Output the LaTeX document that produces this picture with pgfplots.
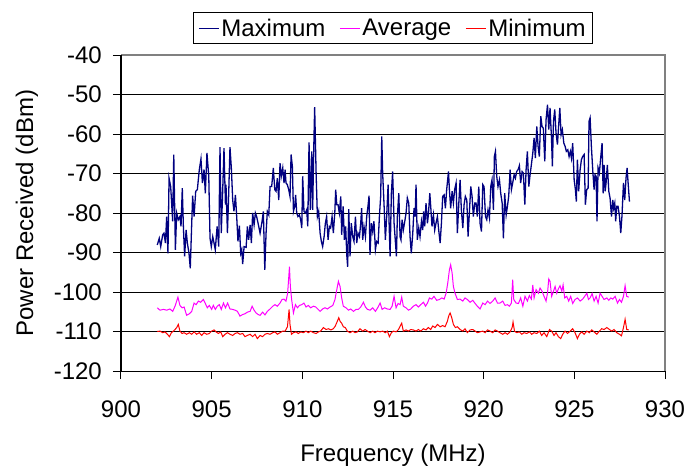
\documentclass[border=0pt]{standalone}
\usepackage{pgfplots}
\pgfplotsset{compat=1.18}
\usepackage{fontspec}
\setmainfont{Liberation Sans}
\definecolor{maxc}{RGB}{0,0,128}
\definecolor{avgc}{RGB}{255,0,255}
\definecolor{minc}{RGB}{255,0,0}
\definecolor{bordc}{RGB}{128,128,128}

\pgfplotstableread{
f v
902.00 -88.1
902.11 -86.4
902.19 -88.5
902.30 -85.5
902.37 -85.1
902.45 -87.6
902.52 -80.9
902.59 -90.2
902.65 -71.2
902.74 -73.3
902.85 -82.1
902.91 -65.2
903.00 -89.3
903.07 -80.0
903.16 -81.7
903.25 -80.9
903.31 -83.4
903.38 -73.7
903.44 -83.4
903.51 -91.0
903.59 -84.3
903.66 -87.6
903.75 -90.2
903.82 -94.0
903.95 -75.6
904.03 -80.9
904.12 -74.5
904.21 -74.1
904.32 -69.0
904.41 -66.3
904.49 -72.4
904.58 -69.0
904.65 -75.0
904.74 -64.8
904.84 -70.7
904.91 -86.4
904.98 -88.5
905.06 -86.0
905.13 -87.6
905.20 -89.3
905.30 -83.4
905.39 -88.5
905.46 -63.3
905.53 -85.1
905.61 -74.1
905.68 -63.6
905.76 -77.9
905.79 -72.8
905.87 -85.1
905.94 -75.0
906.01 -63.3
906.09 -69.0
906.16 -76.7
906.23 -79.6
906.31 -75.4
906.38 -80.9
906.45 -87.2
906.53 -83.2
906.60 -90.2
906.66 -89.3
906.71 -92.9
906.79 -88.5
906.90 -88.7
906.97 -83.4
907.04 -86.8
907.12 -83.0
907.19 -87.6
907.26 -80.0
907.34 -83.0
907.41 -80.0
907.48 -80.9
907.56 -82.6
907.67 -85.1
907.78 -82.1
907.85 -79.6
907.93 -94.4
908.00 -85.1
908.07 -79.6
908.15 -80.5
908.22 -73.3
908.31 -73.3
908.40 -68.6
908.48 -74.1
908.55 -74.5
908.62 -71.2
908.70 -76.7
908.77 -67.4
908.84 -70.7
908.92 -68.6
908.99 -72.4
909.05 -69.0
909.10 -72.4
909.17 -72.8
909.25 -74.1
909.32 -75.8
909.38 -65.2
909.45 -68.2
909.51 -79.6
909.58 -78.3
909.63 -75.4
909.69 -80.0
909.76 -80.9
909.84 -80.5
909.91 -81.7
909.97 -83.8
910.02 -70.7
910.09 -79.6
910.17 -80.0
910.24 -79.2
910.30 -83.4
910.37 -62.1
910.44 -79.2
910.52 -64.4
910.57 -79.2
910.63 -63.6
910.68 -53.2
910.76 -69.9
910.83 -80.9
910.90 -79.6
910.98 -85.1
911.05 -87.2
911.12 -88.5
911.20 -86.0
911.27 -82.6
911.34 -80.9
911.42 -86.8
911.49 -83.4
911.56 -83.8
911.64 -80.9
911.71 -85.1
911.79 -80.0
911.84 -74.1
911.90 -77.9
911.97 -77.9
912.04 -80.0
912.12 -75.8
912.17 -85.5
912.25 -78.3
912.32 -86.8
912.39 -83.4
912.45 -90.6
912.50 -93.6
912.56 -79.0
912.63 -91.0
912.70 -82.6
912.78 -86.0
912.85 -87.2
912.93 -80.9
913.00 -87.6
913.07 -85.1
913.15 -86.0
913.22 -82.6
913.27 -78.8
913.33 -86.8
913.40 -83.4
913.48 -86.0
913.55 -80.9
913.62 -78.3
913.68 -75.6
913.73 -90.6
913.81 -82.6
913.88 -84.7
913.95 -82.1
914.03 -89.3
914.10 -87.2
914.18 -87.6
914.25 -80.9
914.32 -75.8
914.38 -60.6
914.43 -69.9
914.51 -78.3
914.58 -86.8
914.65 -80.9
914.73 -72.8
914.78 -81.7
914.84 -91.0
914.91 -75.0
914.98 -69.5
915.06 -82.6
915.13 -87.2
915.19 -91.0
915.24 -80.9
915.32 -75.0
915.39 -86.0
915.44 -86.8
915.50 -81.7
915.57 -84.3
915.65 -82.1
915.72 -80.0
915.79 -76.2
915.87 -77.5
915.94 -86.0
916.01 -90.2
916.09 -85.1
916.16 -78.8
916.22 -80.9
916.27 -72.8
916.34 -86.8
916.42 -83.8
916.49 -86.0
916.57 -82.1
916.64 -84.3
916.69 -79.6
916.75 -83.4
916.82 -77.5
916.90 -82.6
916.95 -80.5
917.03 -75.0
917.08 -78.3
917.15 -83.4
917.23 -80.5
917.30 -84.3
917.37 -82.6
917.45 -80.9
917.52 -84.3
917.60 -87.6
917.67 -82.6
917.74 -75.8
917.82 -75.4
917.89 -78.8
917.96 -74.1
918.06 -69.5
918.11 -74.1
918.18 -78.8
918.26 -74.5
918.33 -77.5
918.40 -74.1
918.48 -72.4
918.55 -85.1
918.63 -77.5
918.70 -71.6
918.77 -79.2
918.85 -83.8
918.92 -77.9
918.99 -75.8
919.07 -76.7
919.14 -86.0
919.21 -80.0
919.29 -73.3
919.36 -75.8
919.43 -80.9
919.51 -77.5
919.58 -77.5
919.65 -80.9
919.73 -73.3
919.80 -82.6
919.88 -84.7
919.95 -72.8
920.02 -73.3
920.10 -80.9
920.17 -81.7
920.24 -79.2
920.32 -81.3
920.39 -73.3
920.46 -71.6
920.54 -79.2
920.59 -65.7
920.65 -64.4
920.72 -70.7
920.79 -73.3
920.87 -71.6
920.94 -75.0
921.02 -77.5
921.09 -86.4
921.16 -75.0
921.24 -80.5
921.31 -78.3
921.38 -75.8
921.46 -69.0
921.53 -74.1
921.60 -72.4
921.68 -70.3
921.75 -71.2
921.82 -69.5
921.90 -69.0
921.97 -68.0
922.04 -72.4
922.12 -69.5
922.19 -69.9
922.27 -77.9
922.34 -69.0
922.41 -64.4
922.49 -73.3
922.56 -70.3
922.63 -67.8
922.71 -64.8
922.78 -61.0
922.85 -66.1
922.93 -58.1
923.00 -63.1
923.07 -65.7
923.15 -55.5
923.22 -58.1
923.29 -58.5
923.37 -66.9
923.44 -56.4
923.52 -52.6
923.59 -58.9
923.66 -53.4
923.74 -61.0
923.79 -68.2
923.85 -56.8
923.92 -53.8
923.99 -59.7
924.07 -62.7
924.12 -58.9
924.20 -53.4
924.27 -60.2
924.34 -58.9
924.42 -62.3
924.49 -63.1
924.56 -64.4
924.64 -64.0
924.71 -65.7
924.78 -64.4
924.84 -66.1
924.91 -62.3
924.99 -71.6
925.06 -74.1
925.11 -77.1
925.17 -66.5
925.24 -74.5
925.32 -69.0
925.39 -66.5
925.46 -65.7
925.54 -65.2
925.61 -77.9
925.68 -74.1
925.76 -73.7
925.81 -56.8
925.87 -55.9
925.94 -63.1
926.02 -69.5
926.09 -74.1
926.14 -70.3
926.20 -70.7
926.25 -82.1
926.31 -68.6
926.38 -69.9
926.46 -65.7
926.53 -62.3
926.59 -75.0
926.64 -67.8
926.70 -74.5
926.75 -72.4
926.82 -67.8
926.90 -74.5
926.97 -76.2
927.05 -80.9
927.12 -76.7
927.17 -78.8
927.23 -77.5
927.28 -82.1
927.34 -78.3
927.41 -78.3
927.49 -80.9
927.56 -85.1
927.63 -80.5
927.71 -72.4
927.78 -76.7
927.85 -71.2
927.91 -68.6
927.96 -72.0
928.04 -77.1
}\maxtab

\pgfplotstableread{
f v
902.00 -104.0
902.15 -104.6
902.34 -104.4
902.52 -104.6
902.70 -104.3
902.85 -104.9
902.98 -103.6
903.07 -102.3
903.14 -101.3
903.25 -103.4
903.37 -104.0
903.48 -103.8
903.62 -105.9
903.77 -105.5
903.90 -104.9
904.03 -102.8
904.14 -103.2
904.27 -102.3
904.39 -102.6
904.54 -101.9
904.65 -102.9
904.76 -104.0
904.87 -103.4
905.00 -104.4
905.09 -103.4
905.20 -104.4
905.31 -103.6
905.42 -103.2
905.53 -104.4
905.65 -102.8
905.76 -104.0
905.88 -102.8
906.01 -104.3
906.16 -104.4
906.29 -104.6
906.42 -104.9
906.56 -106.1
906.71 -105.7
906.84 -105.5
906.97 -105.1
907.12 -104.9
907.23 -103.6
907.34 -104.6
907.45 -105.3
907.56 -105.7
907.67 -105.9
907.81 -105.1
907.94 -105.8
908.07 -104.9
908.22 -104.3
908.37 -103.6
908.49 -103.2
908.62 -103.6
908.77 -102.8
908.88 -101.9
908.99 -101.8
909.10 -102.3
909.19 -100.3
909.29 -93.6
909.34 -98.6
909.41 -101.9
909.51 -105.3
909.62 -103.2
909.73 -104.0
909.84 -103.4
909.97 -103.2
910.09 -102.8
910.20 -103.8
910.33 -103.4
910.46 -104.0
910.61 -103.6
910.74 -103.8
910.87 -104.4
910.98 -104.9
911.12 -104.3
911.25 -104.0
911.38 -104.3
911.53 -103.8
911.68 -103.4
911.80 -101.9
911.90 -99.4
911.99 -97.3
912.08 -98.6
912.17 -101.5
912.26 -103.6
912.41 -104.0
912.54 -104.6
912.67 -104.3
912.82 -104.9
912.96 -104.4
913.09 -104.4
913.22 -103.8
913.37 -102.6
913.48 -103.8
913.59 -104.4
913.74 -104.6
913.88 -104.0
914.03 -104.9
914.18 -103.8
914.29 -102.8
914.40 -104.4
914.54 -104.0
914.69 -104.3
914.84 -104.4
914.95 -103.6
915.06 -101.1
915.17 -104.0
915.28 -102.9
915.39 -103.2
915.48 -101.3
915.57 -103.6
915.72 -104.0
915.85 -104.6
915.98 -104.3
916.12 -103.6
916.27 -103.2
916.40 -103.8
916.53 -103.2
916.68 -102.6
916.79 -103.6
916.90 -102.8
917.01 -101.5
917.14 -101.8
917.26 -101.1
917.41 -102.1
917.56 -101.9
917.69 -101.5
917.82 -101.8
917.93 -100.3
918.02 -97.7
918.11 -94.4
918.18 -93.1
918.26 -95.2
918.33 -98.6
918.42 -100.3
918.55 -101.9
918.70 -101.8
918.85 -102.3
918.97 -101.5
919.10 -101.9
919.25 -102.6
919.40 -102.1
919.53 -102.9
919.65 -103.6
919.80 -104.3
919.95 -102.8
920.08 -103.2
920.21 -102.3
920.35 -102.9
920.50 -102.3
920.63 -101.5
920.76 -102.8
920.90 -102.8
921.05 -102.3
921.18 -103.4
921.31 -103.2
921.42 -103.6
921.53 -102.8
921.60 -96.9
921.66 -101.9
921.79 -102.8
921.92 -102.9
922.04 -101.5
922.16 -103.6
922.28 -101.1
922.41 -102.3
922.52 -100.9
922.63 -101.8
922.71 -98.2
922.78 -101.5
922.89 -99.4
923.02 -100.3
923.11 -99.0
923.22 -99.8
923.33 -101.1
923.44 -102.3
923.52 -100.3
923.59 -96.7
923.66 -97.3
923.75 -101.1
923.85 -99.8
923.94 -98.6
924.03 -100.3
924.12 -99.2
924.21 -98.4
924.31 -99.8
924.38 -98.2
924.47 -101.5
924.58 -101.1
924.69 -102.3
924.80 -101.1
924.91 -102.9
925.04 -101.9
925.17 -101.5
925.32 -102.3
925.46 -101.8
925.57 -101.1
925.69 -100.3
925.78 -101.9
925.87 -101.5
925.98 -100.4
926.09 -102.3
926.20 -101.1
926.31 -102.8
926.42 -100.3
926.53 -101.1
926.64 -101.9
926.79 -101.5
926.90 -102.1
927.01 -101.5
927.12 -101.8
927.25 -101.1
927.38 -102.8
927.49 -101.9
927.60 -102.6
927.71 -101.1
927.80 -98.4
927.89 -101.1
928.00 -101.3
}\avgtab

\pgfplotstableread{
f v
902.00 -110.0
902.15 -109.9
902.30 -110.3
902.43 -110.1
902.56 -110.7
902.67 -111.3
902.78 -110.3
902.89 -109.9
902.98 -109.5
903.07 -109.0
903.16 -108.2
903.25 -109.9
903.37 -110.5
903.48 -110.3
903.62 -110.7
903.77 -110.3
903.90 -110.7
904.03 -110.1
904.17 -110.7
904.32 -110.3
904.45 -111.0
904.58 -110.3
904.73 -110.7
904.87 -110.5
905.00 -109.9
905.13 -109.6
905.24 -110.1
905.37 -110.5
905.50 -110.1
905.61 -111.3
905.74 -110.7
905.87 -110.3
906.01 -110.7
906.16 -111.0
906.29 -110.5
906.42 -110.3
906.56 -110.7
906.71 -110.5
906.84 -111.3
906.97 -111.0
907.12 -110.7
907.26 -111.3
907.39 -110.7
907.52 -111.8
907.67 -111.0
907.81 -111.3
907.94 -110.7
908.07 -110.5
908.22 -110.7
908.37 -110.3
908.49 -110.1
908.62 -110.7
908.77 -110.3
908.92 -109.9
909.05 -109.9
909.18 -108.8
909.27 -104.4
909.32 -108.2
909.40 -110.7
909.51 -110.3
909.65 -110.1
909.78 -110.5
909.91 -110.1
910.06 -110.3
910.20 -109.9
910.33 -110.3
910.46 -109.9
910.61 -110.3
910.76 -110.5
910.89 -110.1
911.01 -109.9
911.16 -109.0
911.31 -109.5
911.44 -109.3
911.57 -109.6
911.71 -109.3
911.82 -108.6
911.93 -107.4
912.01 -106.5
912.08 -107.4
912.17 -107.9
912.26 -108.8
912.37 -109.0
912.48 -109.9
912.63 -110.3
912.78 -109.9
912.91 -110.3
913.04 -110.1
913.18 -109.3
913.33 -109.9
913.46 -109.5
913.59 -109.9
913.74 -110.3
913.88 -109.9
914.01 -110.3
914.14 -109.9
914.29 -110.1
914.43 -109.9
914.58 -110.3
914.69 -109.9
914.80 -111.3
914.91 -110.3
915.02 -109.9
915.17 -110.1
915.30 -109.5
915.48 -107.9
915.57 -109.9
915.72 -109.6
915.85 -109.9
915.98 -109.5
916.12 -109.6
916.27 -109.9
916.40 -109.5
916.53 -109.9
916.68 -109.3
916.82 -109.6
916.95 -109.0
917.08 -109.5
917.19 -108.6
917.32 -109.0
917.45 -108.2
917.60 -108.8
917.74 -108.5
917.87 -108.8
918.00 -107.4
918.07 -106.1
918.15 -105.3
918.24 -106.5
918.33 -108.2
918.44 -109.0
918.55 -108.8
918.70 -109.5
918.85 -109.9
918.97 -109.3
919.10 -110.3
919.25 -109.6
919.40 -109.5
919.53 -109.9
919.65 -110.3
919.80 -110.1
919.95 -109.9
920.08 -110.3
920.21 -109.6
920.35 -109.9
920.50 -110.3
920.63 -109.6
920.76 -109.9
920.90 -110.3
921.05 -110.7
921.18 -110.3
921.31 -110.7
921.46 -110.1
921.57 -109.0
921.62 -107.6
921.70 -109.9
921.82 -110.3
921.97 -110.1
922.10 -110.7
922.23 -110.3
922.38 -110.5
922.52 -110.1
922.65 -110.7
922.78 -110.3
922.93 -110.5
923.07 -109.9
923.20 -111.0
923.33 -110.3
923.48 -111.3
923.63 -109.5
923.75 -109.9
923.88 -111.0
923.99 -110.3
924.12 -111.3
924.25 -111.8
924.36 -110.7
924.49 -109.9
924.62 -110.5
924.77 -109.9
924.91 -109.3
925.04 -110.3
925.17 -111.8
925.28 -110.7
925.41 -110.1
925.54 -110.7
925.69 -109.9
925.83 -110.3
925.96 -109.6
926.09 -110.1
926.24 -110.7
926.38 -109.9
926.51 -109.3
926.64 -109.5
926.79 -109.0
926.94 -109.5
927.06 -109.9
927.19 -109.5
927.34 -110.3
927.49 -110.7
927.60 -111.1
927.71 -109.0
927.80 -106.9
927.89 -109.5
928.00 -109.6
}\mintab

\begin{document}
\begin{tikzpicture}
\begin{axis}[
  name=ax, at={(0,0)}, anchor=south west,
  scale only axis, width=544bp, height=316bp,
  xmin=900, xmax=930, ymin=-120, ymax=-40,
  xtick={900,905,910,915,920,925,930},
  xticklabels={900,905,910,915,920,925,930},
  ytick={-120,-110,-100,-90,-80,-70,-60,-50,-40},
  yticklabels={-120,-110,-100,-90,-80,-70,-60,-50,-40},
  axis x line*=bottom, axis y line*=left,
  axis line style={black, line width=1bp, -},
  tick align=outside, major tick length=8bp,
  tick style={black, line width=1bp},
  ymajorgrids, grid style={black, line width=1bp},
  font=\fontsize{24bp}{28bp}\selectfont,
  xticklabel style={anchor=north, inner sep=0pt, yshift=-22bp},
  yticklabel style={anchor=east, inner sep=0pt, xshift=-11bp},
  xlabel={Frequency (MHz)},
  xlabel style={at={(axis description cs:0.5,0)}, anchor=center, yshift=-84bp},
  ylabel={Power Received (dBm)},
  ylabel style={at={(axis description cs:0,0.5)}, anchor=center, yshift=94bp},
  legend columns=3,
  legend style={at={(0.5,1)}, anchor=south, yshift=11bp, draw=black, line width=1bp,
    inner xsep=5bp, inner ysep=4bp,
    font=\fontsize{24bp}{28bp}\selectfont,
    /tikz/every even column/.append style={column sep=12bp}},
  legend image code/.code={\draw[#1, line width=1bp] (0bp,0bp) -- (20bp,0bp);},
]
\addplot[maxc, line width=1.3bp] table[x=f, y=v] {\maxtab};
\addlegendentry{Maximum}
\addplot[avgc, line width=1bp] table[x=f, y=v] {\avgtab};
\addlegendentry{Average}
\addplot[minc, line width=1bp] table[x=f, y=v] {\mintab};
\addlegendentry{Minimum}
\end{axis}
\draw[bordc, line width=1.5bp] (ax.north west) -- (ax.north east) -- (ax.south east);
\draw[black, line width=1bp] (ax.north west) -- (ax.south west);
\pgfresetboundingbox
\path[use as bounding box] (-121bp,-96bp) rectangle (568bp,371bp);
\end{tikzpicture}
\end{document}
